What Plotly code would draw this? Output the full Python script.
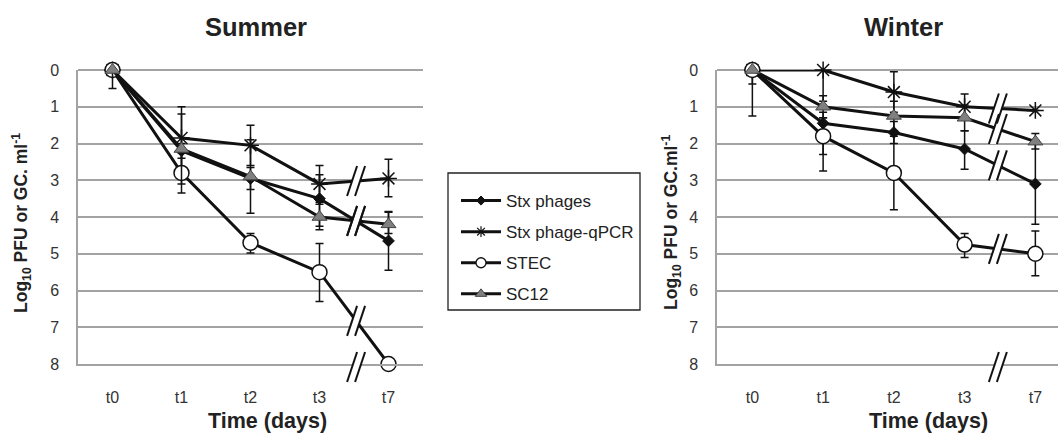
import plotly.graph_objects as go

# ---------------- data ----------------
times = ["t0", "t1", "t2", "t3", "t7"]
series_names = ["Stx phages", "Stx phage-qPCR", "STEC", "SC12"]

# Summer (log10 reduction); err_plus = larger values (downwards), err_minus = smaller values
summer_stx = [0, 2.2, 2.95, 3.5, 4.65]
summer_stx_ep = [0, 0.2, 0.3, 0.75, 0.8]
summer_stx_em = [0, 0.2, 0.3, 0.65, 0.8]
summer_qpcr = [0, 1.85, 2.05, 3.1, 2.95]
summer_qpcr_ep = [0, 0.85, 0.55, 0.5, 0.5]
summer_qpcr_em = [0, 0.85, 0.55, 0.5, 0.52]
summer_stec = [0, 2.8, 4.7, 5.5, 8.0]
summer_stec_ep = [0, 0.55, 0.28, 0.8, 0]
summer_stec_em = [0, 0.55, 0.25, 0.78, 0]
summer_sc12 = [0, 2.15, 2.9, 4.0, 4.2]
summer_sc12_ep = [0.5, 0.95, 1.0, 0.35, 0.25]
summer_sc12_em = [0, 0.95, 1.0, 0.35, 0.33]

# Winter
winter_stx = [0, 1.45, 1.7, 2.15, 3.1]
winter_stx_ep = [0.38, 1.3, 0.3, 0.55, 1.1]
winter_stx_em = [0, 0.3, 0.3, 0.5, 1.1]
winter_qpcr = [0, 0, 0.6, 1.0, 1.1]
winter_qpcr_ep = [0, 0.85, 0.55, 0.3, 0]
winter_qpcr_em = [0, 0, 0.55, 0.35, 0]
winter_stec = [0, 1.8, 2.8, 4.75, 5.0]
winter_stec_ep = [1.25, 0.5, 1.0, 0.35, 0.6]
winter_stec_em = [0, 0.5, 1.0, 0.3, 0.62]
winter_sc12 = [0, 1.0, 1.25, 1.3, 1.95]
winter_sc12_ep = [0, 0.3, 0.4, 0.35, 0.2]
winter_sc12_em = [0, 0.3, 0.4, 0.35, 0.22]

y_ticks = [0, 1, 2, 3, 4, 5, 6, 7, 8]

# ---------------- style ----------------
W, H = 1058, 433
FONT = "Arial, Liberation Sans, sans-serif"
GRID = "#a3a3a3"
INK = "#111111"
marker_styles = [
    dict(symbol="diamond", size=9, color=INK, line=dict(color=INK, width=1)),
    dict(symbol="asterisk-open", size=14, color=INK, line=dict(color=INK, width=1.5)),
    dict(symbol="circle", size=15, color="white", line=dict(color=INK, width=1.5)),
    dict(symbol="triangle-up", size=13, color="#808080", line=dict(color="#444444", width=1)),
]
legend_marker_styles = [
    dict(symbol="diamond", size=7, color=INK, line=dict(color=INK, width=1)),
    dict(symbol="asterisk-open", size=9, color=INK, line=dict(color=INK, width=1.2)),
    dict(symbol="circle", size=10, color="white", line=dict(color=INK, width=1.3)),
    dict(symbol="triangle-up", size=10, color="#808080", line=dict(color="#444444", width=1)),
]

fig = go.Figure()

panels = [
    ("x", "y", [
        (summer_stx, summer_stx_ep, summer_stx_em),
        (summer_qpcr, summer_qpcr_ep, summer_qpcr_em),
        (summer_stec, summer_stec_ep, summer_stec_em),
        (summer_sc12, summer_sc12_ep, summer_sc12_em),
    ]),
    ("x2", "y2", [
        (winter_stx, winter_stx_ep, winter_stx_em),
        (winter_qpcr, winter_qpcr_ep, winter_qpcr_em),
        (winter_stec, winter_stec_ep, winter_stec_em),
        (winter_sc12, winter_sc12_ep, winter_sc12_em),
    ]),
]

for pi, (xa, ya, sers) in enumerate(panels):
    for si, (vals, ep, em) in enumerate(sers):
        fig.add_trace(go.Scatter(
            x=times, y=vals, xaxis=xa, yaxis=ya,
            mode="lines+markers", name=series_names[si],
            legendgroup=series_names[si], showlegend=False,
            line=dict(color=INK, width=3),
            marker=marker_styles[si],
            error_y=dict(type="data", array=ep, arrayminus=em, symmetric=False,
                         color=INK, thickness=1.5, width=4),
            cliponaxis=False,
        ))

# legend-only entries (smaller symbols, as in the reference legend)
for si, name in enumerate(series_names):
    fig.add_trace(go.Scatter(
        x=[None], y=[None], xaxis="x", yaxis="y", mode="lines+markers", name=name,
        legendgroup=name, showlegend=True,
        line=dict(color=INK, width=3), marker=legend_marker_styles[si],
    ))

# ---------------- layout ----------------
def px2x(p):
    return p / W

def px2y(p):
    return 1 - p / H

ydom = [px2y(364), px2y(70)]
axis_common_y = dict(range=[8, 0], tickvals=y_ticks, showgrid=True, gridcolor=GRID, gridwidth=1.5,
                     zeroline=True, zerolinecolor=GRID, zerolinewidth=1.5,
                     showline=True, linecolor=GRID, linewidth=1.5,
                     ticks="", ticklabelstandoff=14, automargin=False,
                     tickfont=dict(family=FONT, size=16, color="#333333"), domain=ydom)
axis_common_x = dict(type="category", showgrid=False, zeroline=False,
                     showline=True, linecolor=GRID, linewidth=1.5, ticks="", automargin=False,
                     ticklabelstandoff=18, tickfont=dict(family=FONT, size=16, color="#333333"))

fig.update_layout(
    width=W, height=H, margin=dict(l=0, r=0, t=0, b=0),
    paper_bgcolor="white", plot_bgcolor="white",
    font=dict(family=FONT, color="#222222"),
    xaxis=dict(domain=[px2x(78), px2x(423)], range=[-0.5, 4.5], anchor="y", **axis_common_x),
    yaxis=dict(anchor="x", **axis_common_y),
    xaxis2=dict(domain=[px2x(717), 1.0], range=[-0.5, 4.32], anchor="y2", **axis_common_x),
    yaxis2=dict(anchor="x2", **axis_common_y),
    legend=dict(x=px2x(456), y=px2y(183), xanchor="left", yanchor="top",
                borderwidth=0, bgcolor="rgba(0,0,0,0)",
                font=dict(family=FONT, size=17, color="#222222"),
                tracegroupgap=6, itemwidth=40),
)

# legend frame
fig.add_shape(type="rect", xref="paper", yref="paper",
              x0=px2x(448), x1=px2x(640), y0=px2y(310), y1=px2y(173),
              line=dict(color="#222222", width=1.3), fillcolor="rgba(0,0,0,0)", layer="below")

# titles and axis labels
ylab_l = "<b>Log<sub>10</sub> PFU or GC. ml<sup>-1</sup></b>"
ylab_r = "<b>Log<sub>10</sub> PFU or GC.ml<sup>-1</sup></b>"
annos = [
    dict(text="<b>Summer</b>", x=px2x(256), y=px2y(27), size=25.5),
    dict(text="<b>Winter</b>", x=px2x(903), y=px2y(27), size=25.5),
    dict(text="<b>Time (days)</b>", x=px2x(267), y=px2y(421), size=21.5),
    dict(text="<b>Time (days)</b>", x=px2x(929), y=px2y(421), size=21.5),
]
for a in annos:
    fig.add_annotation(text=a["text"], x=a["x"], y=a["y"], xref="paper", yref="paper",
                       xanchor="center", yanchor="middle", showarrow=False,
                       font=dict(family=FONT, size=a["size"], color="#222222"))
for txt, xp in [(ylab_l, 22), (ylab_r, 672)]:
    fig.add_annotation(text=txt, x=px2x(xp), y=px2y(223), xref="paper", yref="paper",
                       xanchor="center", yanchor="middle", showarrow=False, textangle=-90,
                       font=dict(family=FONT, size=17.5, color="#222222"))

# ---------------- axis / line breaks ("//") ----------------
def breaks_for(xref, yref, sers, bx):
    out = []
    for vals, _, _ in sers:
        by = vals[3] + (bx - 3) * (vals[4] - vals[3])
        out.append((xref, yref, bx, by))
    return out

break_list = []
break_list += breaks_for("x", "y", panels[0][2], 3.53)
break_list += breaks_for("x2", "y2", panels[1][2], 3.47)
axis_breaks = [("x", 3.53), ("x2", 3.47)]

def add_gap(xref, yref, bx, by):
    fig.add_shape(type="path", path="M -9,-15 L 1,15 L 9,15 L -1,-15 Z",
                  fillcolor="white", line=dict(width=0),
                  xref=xref, yref=yref, xsizemode="pixel", ysizemode="pixel",
                  xanchor=bx, yanchor=by, layer="above")

def add_slashes(xref, yref, bx, by):
    for off in (-4, 4):
        fig.add_shape(type="line", x0=off - 5, y0=-15, x1=off + 5, y1=15,
                      line=dict(color=INK, width=2),
                      xref=xref, yref=yref, xsizemode="pixel", ysizemode="pixel",
                      xanchor=bx, yanchor=by, layer="above")

all_breaks = list(break_list) + [(xr, "paper", bx, ydom[0] - 3 / H) for xr, bx in axis_breaks]
for b in all_breaks:
    add_gap(*b)
for b in all_breaks:
    add_slashes(*b)

fig.write_html("out.html")
